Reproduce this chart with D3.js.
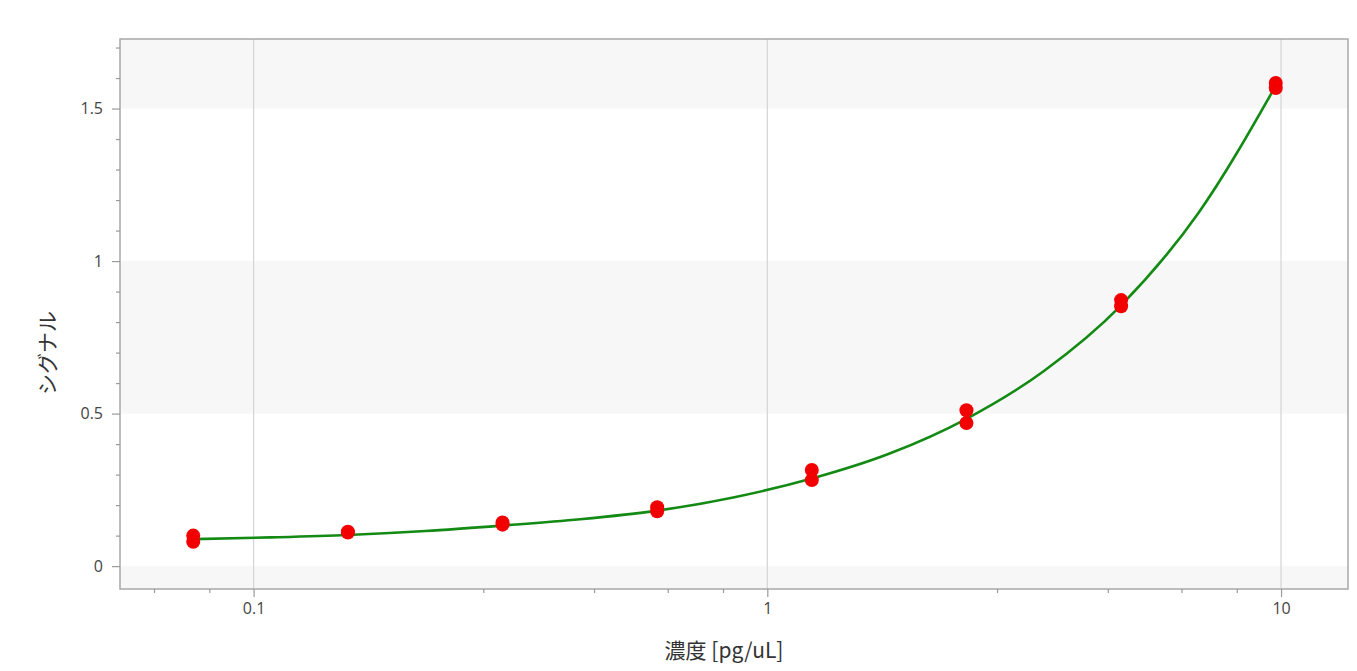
<!DOCTYPE html>
<html lang="ja">
<head>
    <meta charset="UTF-8">
    <title>シグナル vs 濃度</title>
    <script src="https://d3js.org/d3.v7.min.js"></script>
    <style>
        body {
            margin: 0;
            background: #fff;
        }
        svg {
            display: block;
        }
        .tick text {
            font-family: "Open Sans", "Noto Sans", sans-serif;
            font-size: 16px;
            fill: #444;
        }
        .axis-title {
            font-family: "Noto Sans CJK JP", "Noto Sans", sans-serif;
            font-size: 21px;
            fill: #333;
        }
    </style>
</head>
<body>
    <svg width="1357" height="671"></svg>
    <script>
        // concentrations (2-fold dilution series) and two replicate signals
        const concentrations = [0.0763, 0.1526, 0.3052, 0.6104, 1.2207, 2.4414, 4.8828, 9.7656];
        const replicateA = [0.100, 0.113, 0.143, 0.193, 0.315, 0.511, 0.872, 1.584];
        const replicateB = [0.080, 0.110, 0.136, 0.180, 0.282, 0.469, 0.852, 1.567];

        // fitted curve
        const fitX = [0.0763, 0.108, 0.1526, 0.216, 0.3052, 0.432, 0.6104, 0.863, 1.2207, 1.73, 2.4414, 3.45, 4.8828, 6.9, 9.7656];
        const fitY = [0.0885, 0.0942, 0.102, 0.115, 0.133, 0.1536, 0.182, 0.226, 0.287, 0.369, 0.483, 0.639, 0.855, 1.157, 1.575];

        // ticks
        const xMajorTicks = [0.1, 1, 10];
        const xMinorTicks = [0.064, 0.082, 0.28, 0.46, 0.64, 0.82, 2.8, 4.6, 6.4, 8.2];
        const yMajorTicks = [0, 0.5, 1, 1.5];
        const yMinorTicks = [0.1, 0.2, 0.3, 0.4, 0.6, 0.7, 0.8, 0.9, 1.1, 1.2, 1.3, 1.4, 1.6, 1.7];

        const xTitle = '濃度 [pg/uL]';
        const yTitle = 'シグナル';

        const plotLeft = 120, plotRight = 1348, plotTop = 39, plotBottom = 589;

        const x = d3.scaleLog()
            .domain([0.05495, 13.50])
            .range([plotLeft, plotRight]);

        const y = d3.scaleLinear()
            .domain([-0.075, 1.728])
            .range([plotBottom, plotTop]);

        const svg = d3.select('svg');

        // alternating bands between the major y ticks
        const bounds = [y.domain()[0], ...yMajorTicks, y.domain()[1]];
        const bands = d3.pairs(bounds).filter((d, i) => i % 2 === 0);
        svg.append('g')
            .selectAll('rect')
            .data(bands)
            .enter().append('rect')
            .attr('x', plotLeft)
            .attr('width', plotRight - plotLeft)
            .attr('y', d => y(d[1]))
            .attr('height', d => y(d[0]) - y(d[1]))
            .attr('fill', '#f7f7f7');

        // vertical grid at decades
        svg.append('g')
            .selectAll('line')
            .data(xMajorTicks)
            .enter().append('line')
            .attr('x1', d => x(d))
            .attr('x2', d => x(d))
            .attr('y1', plotTop)
            .attr('y2', plotBottom)
            .attr('stroke', '#d4d4d4')
            .attr('stroke-width', 1.2);

        // frame
        svg.append('rect')
            .attr('x', plotLeft)
            .attr('y', plotTop)
            .attr('width', plotRight - plotLeft)
            .attr('height', plotBottom - plotTop)
            .attr('fill', 'none')
            .attr('stroke', '#a8a8a8')
            .attr('stroke-width', 1.5);

        const styleAxis = g => {
            g.select('.domain').remove();
            g.selectAll('.tick line').attr('stroke', '#9a9a9a').attr('stroke-width', 1.2);
        };

        svg.append('g')
            .attr('transform', `translate(0, ${plotBottom})`)
            .call(d3.axisBottom(x).tickValues(xMajorTicks).tickSize(8).tickPadding(6).tickFormat(d3.format('~g')))
            .call(styleAxis);

        svg.append('g')
            .attr('transform', `translate(0, ${plotBottom})`)
            .call(d3.axisBottom(x).tickValues(xMinorTicks).tickSize(4).tickFormat(''))
            .call(styleAxis);

        svg.append('g')
            .attr('transform', `translate(${plotLeft}, 0)`)
            .call(d3.axisLeft(y).tickValues(yMajorTicks).tickSize(8).tickPadding(9).tickFormat(d3.format('~g')))
            .call(styleAxis);

        svg.append('g')
            .attr('transform', `translate(${plotLeft}, 0)`)
            .call(d3.axisLeft(y).tickValues(yMinorTicks).tickSize(4).tickFormat(''))
            .call(styleAxis);

        // fitted curve
        const fit = fitX.map((d, i) => [d, fitY[i]]);
        svg.append('path')
            .datum(fit)
            .attr('fill', 'none')
            .attr('stroke', '#138a13')
            .attr('stroke-width', 2.6)
            .attr('d', d3.line()
                .x(d => x(d[0]))
                .y(d => y(d[1]))
                .curve(d3.curveMonotoneX));

        // measured points
        const points = concentrations.flatMap((c, i) => [[c, replicateA[i]], [c, replicateB[i]]]);
        svg.append('g')
            .selectAll('circle')
            .data(points)
            .enter().append('circle')
            .attr('cx', d => x(d[0]))
            .attr('cy', d => y(d[1]))
            .attr('r', 7)
            .attr('fill', '#f20000');

        // axis titles
        svg.append('text')
            .attr('class', 'axis-title')
            .attr('x', 724)
            .attr('y', 658)
            .attr('text-anchor', 'middle')
            .text(xTitle);

        svg.append('text')
            .attr('class', 'axis-title')
            .attr('transform', 'translate(55, 353) rotate(-90)')
            .attr('text-anchor', 'middle')
            .text(yTitle);
    </script>
</body>
</html>
